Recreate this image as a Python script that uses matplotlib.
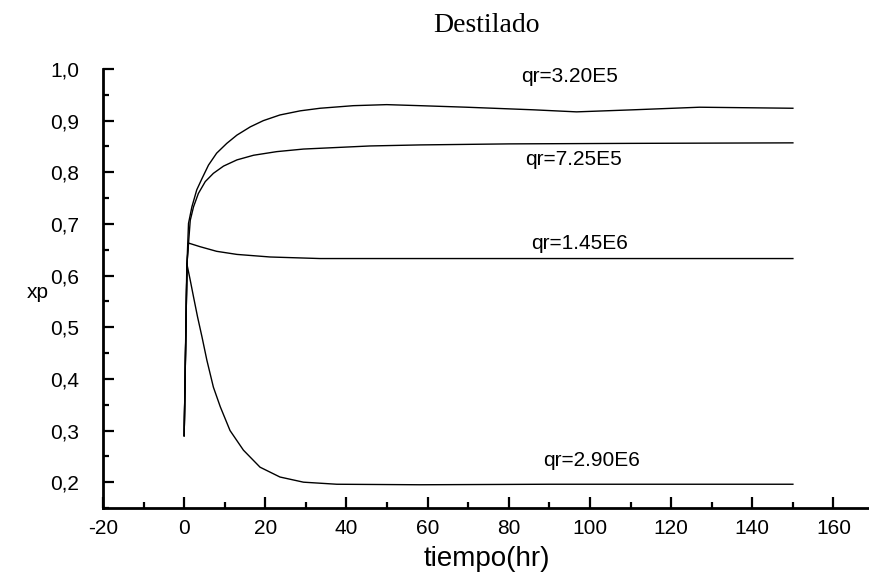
import numpy as np
import matplotlib
matplotlib.use("Agg")
import matplotlib.pyplot as plt
from matplotlib.ticker import MultipleLocator, FuncFormatter

plt.rcParams["axes.unicode_minus"] = False

# ----- data -----
t_320e5 = [0, 0.7, 1.07, 1.9, 3.1, 4.4, 6.0, 8.0, 10.5, 13.0, 16.3, 19.5, 23.6, 28.6,
           33.5, 41.7, 49.9, 58.1, 69.6, 86, 96.7, 110.7, 127, 150]
x_320e5 = [0.29, 0.624, 0.701, 0.733, 0.766, 0.788, 0.814, 0.837, 0.856, 0.872, 0.888,
           0.900, 0.911, 0.919, 0.924, 0.929, 0.931, 0.929, 0.926, 0.921, 0.917, 0.921,
           0.926, 0.924]

t_725e5 = [0, 0.7, 1.5, 2.3, 3.5, 5.2, 7.2, 9.7, 13, 17.1, 22.8, 29.4, 37.6, 45.8, 58.1,
           80, 110, 150]
x_725e5 = [0.29, 0.624, 0.707, 0.733, 0.759, 0.782, 0.798, 0.812, 0.824, 0.833, 0.840,
           0.845, 0.848, 0.851, 0.853, 0.855, 0.856, 0.857]

t_145e6 = [0, 0.7, 1.07, 3.9, 8, 13, 21.2, 33.5, 58, 90, 120, 150]
x_145e6 = [0.29, 0.624, 0.663, 0.656, 0.647, 0.641, 0.636, 0.633, 0.633, 0.633, 0.633, 0.633]

t_290e6 = [0, 0.66, 1.5, 2.3, 3.3, 4.4, 5.6, 7.2, 8.9, 11.3, 14.6, 18.7, 23.6, 29.4,
           37.6, 58, 90, 120, 150]
x_290e6 = [0.29, 0.623, 0.591, 0.559, 0.520, 0.481, 0.436, 0.384, 0.346, 0.300, 0.262,
           0.229, 0.210, 0.200, 0.196, 0.195, 0.196, 0.196, 0.196]

curve_t = [t_320e5, t_725e5, t_145e6, t_290e6]
curve_x = [x_320e5, x_725e5, x_145e6, x_290e6]
curve_labels = ["qr=3.20E5", "qr=7.25E5", "qr=1.45E6", "qr=2.90E6"]
label_t = [95, 96, 97.5, 100.5]
label_x = [0.985, 0.824, 0.663, 0.242]

SANS = "Liberation Sans"

fig = plt.figure(figsize=(8.7, 5.85), dpi=100)
ax = fig.add_axes([103 / 870, 77 / 585, 767 / 870, 439 / 585])

for t, x in zip(curve_t, curve_x):
    ax.plot(t, x, color="black", lw=1.0)

for lab, lt, lx in zip(curve_labels, label_t, label_x):
    ax.text(lt, lx, lab, ha="center", va="center", fontsize=15,
            family=SANS, color="black")

ax.set_xlim(-20, 169)
ax.set_ylim(0.15, 1.0)
ax.xaxis.set_major_locator(MultipleLocator(20))
ax.xaxis.set_minor_locator(MultipleLocator(10))
ax.yaxis.set_minor_locator(MultipleLocator(0.05))
ax.set_yticks(np.arange(0.2, 1.01, 0.1))
ax.yaxis.set_major_formatter(FuncFormatter(lambda v, p: f"{v:.1f}".replace(".", ",")))

ax.spines["top"].set_visible(False)
ax.spines["right"].set_visible(False)
ax.spines["left"].set_linewidth(2)
ax.spines["bottom"].set_linewidth(2)
ax.tick_params(which="major", direction="in", length=8, width=1.6)
ax.tick_params(which="minor", direction="in", length=4, width=1.6)
ax.tick_params(axis="y", which="major", pad=17)
ax.tick_params(axis="x", which="major", pad=8)

for lbl in ax.get_yticklabels() + ax.get_xticklabels():
    lbl.set_fontfamily(SANS)
    lbl.set_fontsize(15)

ax.set_xlabel("tiempo(hr)", fontsize=20, family=SANS, labelpad=6)
fig.text(38 / 870, 1 - 293 / 585, "xp", ha="center", va="center",
         fontsize=15, family=SANS)
fig.text(486 / 870, 1 - 25 / 585, "Destilado", ha="center", va="center",
         fontsize=20, family="Liberation Serif")

fig.savefig("out.png", dpi=100)
